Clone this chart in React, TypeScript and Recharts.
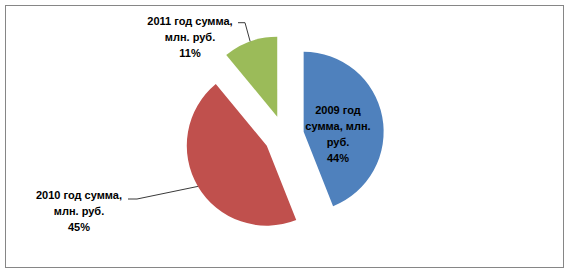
import React from 'react';
import { PieChart, Pie, Cell } from 'recharts';

// ---- data ----
const categories = ['2009 год сумма, млн. руб.', '2010 год сумма, млн. руб.', '2011 год сумма, млн. руб.'];
const shares = [44, 45, 11];
const labelTextLines = [
  ['2009 год', 'сумма, млн.', 'руб.'],
  ['2010 год сумма,', 'млн. руб.'],
  ['2011 год сумма,', 'млн. руб.'],
];
const colors = ['#4F81BD', '#C0504D', '#9BBB59'];

const chartData = categories.map((name, i) => ({ name, value: shares[i] }));

// ---- layout ----
const W = 569;
const H = 273;
const CX = 284;
const CY = 135.5;
const R = 80;
const EXPLODE = 20;
const START = 90;
const END = -270;
const RAD = Math.PI / 180;
const LINE_H = 16;
const FONT = '"Liberation Sans", Arial, sans-serif';

const LABEL_LAYOUT = [
  { x: 338, y: 110, leader: null as null | number[][] },
  { x: 79, y: 195, leader: [[137, 199], [128, 199]] },
  { x: 190, y: 21, leader: [[245, 22.7], [238, 22.7]] },
];

const total = shares.reduce((a, b) => a + b, 0);
const midAngles = shares.map((v, i) => {
  const before = shares.slice(0, i).reduce((a, b) => a + b, 0);
  return START + (END - START) * (before + v / 2) / total;
});

const makeLabel = (idx: number) => (props: any) => {
  if (props.index !== idx) return null;
  const lay = LABEL_LAYOUT[idx];
  const pct = `${Math.round(props.percent * 100)}%`;
  const lines = [...labelTextLines[idx], pct];
  let leaderEl = null;
  if (lay.leader) {
    const sx = props.cx + props.outerRadius * Math.cos(-props.midAngle * RAD);
    const sy = props.cy + props.outerRadius * Math.sin(-props.midAngle * RAD);
    const pts = [[sx, sy], ...lay.leader].map((p) => p.join(',')).join(' ');
    leaderEl = <polyline points={pts} fill="none" stroke="#3a3a3a" strokeWidth={1} />;
  }
  return (
    <g key={`lbl-${idx}`}>
      {leaderEl}
      {lines.map((t, k) => (
        <text
          key={k}
          x={lay.x}
          y={lay.y + k * LINE_H}
          textAnchor="middle"
          dominantBaseline="central"
          fontFamily={FONT}
          fontWeight="bold"
          fontSize={11}
          fill="#000"
        >
          {t}
        </text>
      ))}
    </g>
  );
};

export default function App() {
  return (
    <div style={{ position: 'absolute', left: 0, top: 0, width: W, height: H, background: '#fff' }}>
      <div
        style={{
          position: 'absolute',
          left: 5,
          top: 5,
          width: 559,
          height: 263,
          boxSizing: 'border-box',
          border: '1px solid #868686',
        }}
      />
      <div style={{ position: 'absolute', left: 0, top: 0 }}>
        <PieChart width={W} height={H} margin={{ top: 0, right: 0, bottom: 0, left: 0 }}>
          {shares.map((_, i) => (
            <Pie
              key={i}
              data={chartData}
              dataKey="value"
              nameKey="name"
              cx={CX + EXPLODE * Math.cos(midAngles[i] * RAD)}
              cy={CY - EXPLODE * Math.sin(midAngles[i] * RAD)}
              outerRadius={R}
              startAngle={START}
              endAngle={END}
              stroke="none"
              isAnimationActive={false}
              labelLine={false}
              label={makeLabel(i)}
            >
              {chartData.map((d, j) => (
                <Cell key={j} fill={j === i ? colors[j] : 'transparent'} stroke="none" />
              ))}
            </Pie>
          ))}
        </PieChart>
      </div>
    </div>
  );
}
